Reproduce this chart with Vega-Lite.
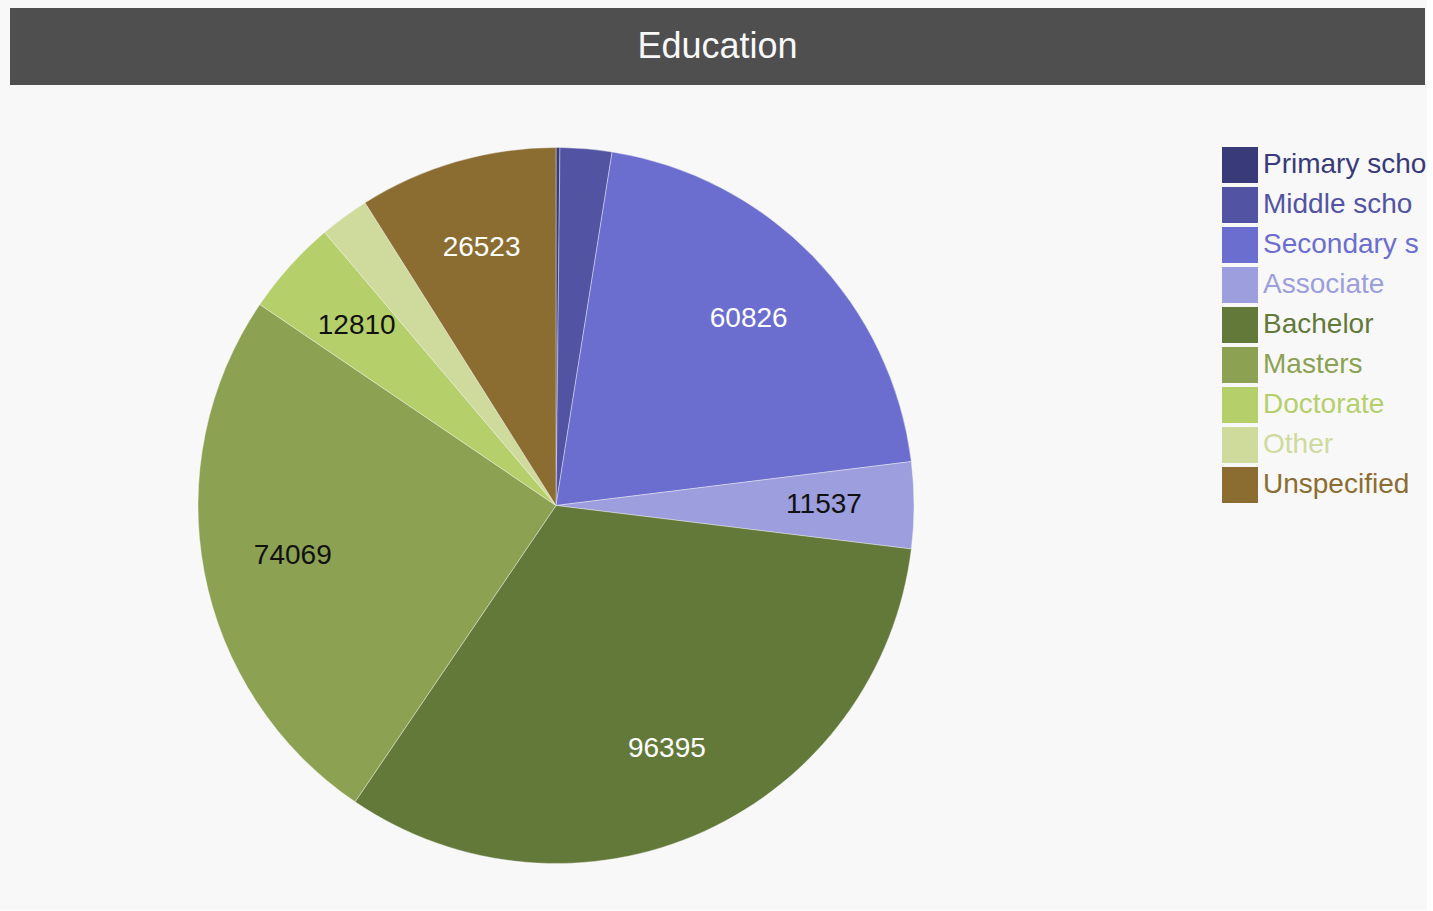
{
  "$schema": "https://vega.github.io/schema/vega-lite/v6.json",
  "background": "#f8f8f8",
  "padding": {"left": 10, "top": 8, "right": 0, "bottom": 0},
  "spacing": 0,
  "config": {
    "font": "Liberation Sans",
    "view": {"stroke": null}
  },
  "datasets": {
    "edu": [
      {"idx": 1, "level": "Primary school", "value": 520},
      {"idx": 2, "level": "Middle school", "value": 6900},
      {"idx": 3, "level": "Secondary school", "value": 60826},
      {"idx": 4, "level": "Associate", "value": 11537},
      {"idx": 5, "level": "Bachelor", "value": 96395},
      {"idx": 6, "level": "Masters", "value": 74069},
      {"idx": 7, "level": "Doctorate", "value": 12810},
      {"idx": 8, "level": "Other", "value": 6600},
      {"idx": 9, "level": "Unspecified", "value": 26523}
    ],
    "head": [{"title": "Education"}]
  },
  "vconcat": [
    {
      "width": 1415,
      "height": 77,
      "view": {"fill": "#4f4f4f", "stroke": null},
      "data": {"name": "head"},
      "mark": {"type": "text", "fontSize": 36, "color": "#f8f8f8", "baseline": "middle", "align": "center", "dy": 0},
      "encoding": {"text": {"field": "title"}}
    },
    {
      "width": 1092,
      "height": 825,
      "data": {"name": "edu"},
      "encoding": {
        "theta": {"field": "value", "type": "quantitative", "stack": true},
        "order": {"field": "idx", "type": "quantitative"}
      },
      "layer": [
        {
          "mark": {"type": "arc", "outerRadius": 358, "yOffset": 8, "stroke": "#f8f8f8", "strokeWidth": 0.4},
          "encoding": {
            "color": {
              "field": "level",
              "type": "nominal",
              "scale": {
                "domain": ["Primary school", "Middle school", "Secondary school", "Associate", "Bachelor", "Masters", "Doctorate", "Other", "Unspecified"],
                "range": ["#393b79", "#5254a3", "#6b6ecf", "#9c9ede", "#637939", "#8ca252", "#b5cf6b", "#cedb9c", "#8c6d31"]
              },
              "legend": {
                "title": null,
                "orient": "none",
                "legendX": 1212,
                "legendY": 139,
                "symbolType": "square",
                "symbolSize": 1296,
                "symbolStrokeWidth": 0,
                "symbolOpacity": 1,
                "rowPadding": 4,
                "labelFontSize": 28,
                "labelOffset": 5,
                "labelLimit": 200,
                "labelExpr": "datum.label == 'Primary school' ? 'Primary scho' : datum.label == 'Middle school' ? 'Middle scho' : datum.label == 'Secondary school' ? 'Secondary s' : datum.label",
                "labelColor": {"expr": "['#393b79', '#5254a3', '#6b6ecf', '#9c9ede', '#637939', '#8ca252', '#b5cf6b', '#cedb9c', '#8c6d31'][indexof(['Primary school', 'Middle school', 'Secondary school', 'Associate', 'Bachelor', 'Masters', 'Doctorate', 'Other', 'Unspecified'], datum.value)]"}
              }
            }
          }
        },
        {
          "mark": {"type": "text", "radius": 268, "yOffset": 8, "fontSize": 28, "baseline": "middle", "align": "center"},
          "encoding": {
            "text": {
              "condition": {"test": "datum.value > 10000", "field": "value", "type": "quantitative"},
              "value": ""
            },
            "color": {
              "condition": {"test": "indexof(['Secondary school', 'Bachelor', 'Unspecified'], datum.level) >= 0", "value": "#ffffff"},
              "value": "#111111"
            }
          }
        }
      ]
    }
  ]
}
